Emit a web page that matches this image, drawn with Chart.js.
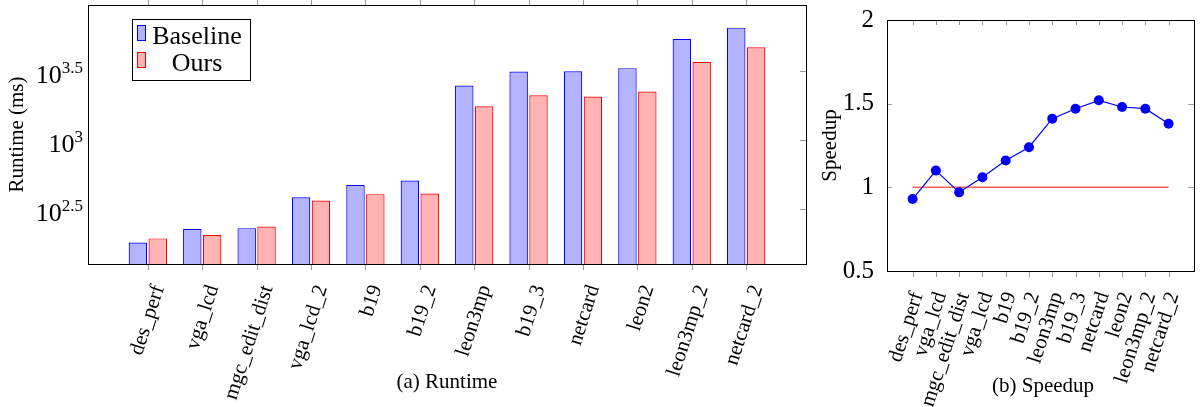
<!DOCTYPE html>
<html>
<head>
<meta charset="utf-8">
<script src="https://cdn.jsdelivr.net/npm/chart.js@4.4.1/dist/chart.umd.min.js"></script>
<style>
  body { margin: 0; background: #fff; width: 1203px; height: 407px; overflow: hidden; position: relative; }
  #runtimeBox { position: absolute; left: 0; top: 0; width: 830px; height: 407px; }
  #speedupBox { position: absolute; left: 810px; top: 0; width: 393px; height: 407px; }
</style>
</head>
<body>
<div id="runtimeBox"><canvas id="runtime"></canvas></div>
<div id="speedupBox"><canvas id="speedup"></canvas></div>
<script>
//// data
const designs = ["des_perf", "vga_lcd", "mgc_edit_dist", "vga_lcd_2", "b19", "b19_2",
                 "leon3mp", "b19_3", "netcard", "leon2", "leon3mp_2", "netcard_2"]
// the speedup panel prints the 4th name without the suffix
const speedupNames = ["des_perf", "vga_lcd", "mgc_edit_dist", "vga_lcd", "b19", "b19_2",
                      "leon3mp", "b19_3", "netcard", "leon2", "leon3mp_2", "netcard_2"]
const baselineMs = [180, 226, 229, 384, 470, 507, 2476, 3126, 3147, 3311, 5395, 6513]
const oursMs = [193, 204, 235, 363, 404, 408, 1755, 2109, 2060, 2239, 3675, 4695]
const speedup = [0.93, 1.10, 0.97, 1.06, 1.16, 1.24, 1.41, 1.47, 1.52, 1.48, 1.47, 1.38]
const runtimeExponents = [2.5, 3, 3.5]   // log ticks 10^x
const speedupTicks = [0.5, 1, 1.5, 2]

const serif = "'Liberation Serif', 'Times New Roman', serif"
const tickGray = '#9a9a9a'

//// helpers
function indexTicks(scale) {
    scale.ticks = designs.map((d, i) => ({ value: i }))
}

// frame + pgfplots-like tick marks + extra texts
const decorPlugin = {
    id: 'decor',
    afterDraw(chart, args, opts) {
        const ctx = chart.ctx
        const a = chart.chartArea
        const xs = chart.scales.x
        const ys = chart.scales.y
        ctx.save()
        ctx.strokeStyle = tickGray
        ctx.lineWidth = 1
        designs.forEach((d, i) => {
            const px = Math.round(xs.getPixelForValue(i)) + 0.5
            ctx.beginPath()
            if (opts.topTicks === 'out') { ctx.moveTo(px, a.top - 6); ctx.lineTo(px, a.top) }
            else { ctx.moveTo(px, a.top); ctx.lineTo(px, a.top + 5) }
            ctx.moveTo(px, a.bottom); ctx.lineTo(px, a.bottom + 6)
            ctx.stroke()
        })
        opts.yValues.forEach(v => {
            const py = Math.round(ys.getPixelForValue(v)) + 0.5
            ctx.beginPath()
            if (opts.leftTicks) { ctx.moveTo(a.left, py); ctx.lineTo(a.left + 5, py) }
            ctx.moveTo(a.right, py); ctx.lineTo(a.right - 6, py)
            ctx.stroke()
        })
        ctx.strokeStyle = '#000'
        ctx.strokeRect(Math.round(a.left) + 0.5, Math.round(a.top) + 0.5,
                       Math.round(a.right - a.left), Math.round(a.bottom - a.top))

        ctx.fillStyle = '#000'
        // y title
        ctx.save()
        ctx.translate(opts.yTitleX, (a.top + a.bottom) / 2)
        ctx.rotate(-Math.PI / 2)
        ctx.font = '21px ' + serif
        ctx.textAlign = 'center'
        ctx.textBaseline = 'middle'
        ctx.fillText(opts.yTitle, 0, 0)
        ctx.restore()
        // caption
        ctx.font = '21px ' + serif
        ctx.textAlign = 'center'
        ctx.textBaseline = 'middle'
        ctx.fillText(opts.caption, opts.captionX, opts.captionY)

        // power-of-ten labels
        if (opts.powerLabels) {
            runtimeExponents.forEach(e => {
                const py = ys.getPixelForValue(Math.pow(10, e))
                const base = '10', sup = String(e)
                ctx.font = '26px ' + serif
                const wb = ctx.measureText(base).width
                ctx.font = '17px ' + serif
                const ws = ctx.measureText(sup).width
                const x0 = a.left - 5 - wb - ws
                ctx.textAlign = 'left'
                ctx.textBaseline = 'alphabetic'
                ctx.font = '26px ' + serif
                ctx.fillText(base, x0, py + 12)
                ctx.font = '17px ' + serif
                ctx.fillText(sup, x0 + wb, py + 2)
            })
        }

        // legend box
        if (opts.legend) {
            const L = opts.legend
            ctx.fillStyle = '#fff'
            ctx.fillRect(132, 19, 119, 61)
            ctx.strokeStyle = '#000'
            ctx.strokeRect(132.5, 19.5, 118, 61)
            L.forEach((item, k) => {
                const y0 = 25 + k * 27
                ctx.fillStyle = item.fill
                ctx.fillRect(137, y0, 9, 16)
                ctx.strokeStyle = item.border
                ctx.strokeRect(137.5, y0 + 0.5, 8, 15)
                ctx.fillStyle = '#000'
                ctx.font = '26px ' + serif
                ctx.textAlign = 'center'
                ctx.textBaseline = 'alphabetic'
                ctx.fillText(item.text, 197, y0 + 19)
            })
        }
        ctx.restore()
    }
}

//// runtime chart
const runtimeChart = new Chart(document.querySelector('#runtime'), {
    type: 'bar',
    data: {
        datasets: [
            {
                label: 'Baseline',
                data: baselineMs.map((v, i) => ({ x: i, y: v })),
                backgroundColor: '#b3b3ff',
                borderColor: '#0000ff',
                borderWidth: 1.2,
                categoryPercentage: 0.73,
                barPercentage: 0.93
            },
            {
                label: 'Ours',
                data: oursMs.map((v, i) => ({ x: i, y: v })),
                backgroundColor: '#ffb3b3',
                borderColor: '#ff0000',
                borderWidth: 1.2,
                categoryPercentage: 0.73,
                barPercentage: 0.93
            }
        ]
    },
    options: {
        responsive: true,
        maintainAspectRatio: false,
        animation: false,
        layout: { padding: { left: 88, top: 5, right: 24, bottom: 0 } },
        scales: {
            x: {
                type: 'linear',
                offset: false,
                min: -1.1,
                max: 12.1,
                afterBuildTicks: indexTicks,
                afterFit: s => { s.height = 143 },
                grid: { display: false, offset: false },
                border: { display: false },
                ticks: {
                    autoSkip: false,
                    minRotation: 72,
                    maxRotation: 72,
                    padding: 10,
                    labelOffset: 11,
                    color: '#000',
                    font: { family: serif, size: 21 },
                    callback: v => designs[v] || ''
                }
            },
            y: {
                type: 'logarithmic',
                display: false,
                min: Math.pow(10, 2.1),
                max: Math.pow(10, 3.978)
            }
        },
        plugins: {
            legend: { display: false },
            tooltip: { enabled: false },
            decor: {
                topTicks: 'out',
                leftTicks: false,
                yValues: runtimeExponents.map(e => Math.pow(10, e)),
                yTitle: 'Runtime (ms)',
                yTitleX: 17,
                caption: '(a) Runtime',
                captionX: 447,
                captionY: 382,
                powerLabels: true,
                legend: [
                    { text: 'Baseline', fill: '#b3b3ff', border: '#0000ff' },
                    { text: 'Ours', fill: '#ffb3b3', border: '#ff0000' }
                ]
            }
        }
    },
    plugins: [decorPlugin]
})

//// speedup chart
const speedupChart = new Chart(document.querySelector('#speedup'), {
    type: 'line',
    data: {
        datasets: [
            {
                label: 'Speedup',
                data: speedup.map((v, i) => ({ x: i, y: v })),
                borderColor: '#0000ff',
                backgroundColor: '#0000ff',
                borderWidth: 1.2,
                pointRadius: 5,
                pointBorderWidth: 0,
                order: 0
            },
            {
                label: 'Baseline',
                data: [{ x: 0, y: 1 }, { x: designs.length - 1, y: 1 }],
                borderColor: '#ff5a5a',
                borderWidth: 1.5,
                pointRadius: 0,
                order: 1
            }
        ]
    },
    options: {
        responsive: true,
        maintainAspectRatio: false,
        animation: false,
        layout: { padding: { left: 0, top: 13, right: 5, bottom: 0 } },
        scales: {
            x: {
                type: 'linear',
                min: -1.1,
                max: 12.1,
                afterBuildTicks: indexTicks,
                afterFit: s => { s.height = 407 - 13 - 258 },
                grid: { display: false },
                border: { display: false },
                ticks: {
                    autoSkip: false,
                    minRotation: 72,
                    maxRotation: 72,
                    padding: 10,
                    labelOffset: 5,
                    color: '#000',
                    font: { family: serif, size: 21 },
                    callback: v => speedupNames[v] || ''
                }
            },
            y: {
                min: 0.5,
                max: 2,
                afterBuildTicks: s => { s.ticks = speedupTicks.map(v => ({ value: v })) },
                afterFit: s => { s.width = 77 },
                grid: { display: false },
                border: { display: false },
                ticks: {
                    padding: 5,
                    color: '#000',
                    font: { family: serif, size: 25 },
                    callback: v => String(v)
                }
            }
        },
        plugins: {
            legend: { display: false },
            tooltip: { enabled: false },
            decor: {
                topTicks: 'in',
                leftTicks: true,
                yValues: [1, 1.5],
                yTitle: 'Speedup',
                yTitleX: 20,
                caption: '(b) Speedup',
                captionX: 233,
                captionY: 386,
                powerLabels: false
            }
        }
    },
    plugins: [decorPlugin]
})
</script>
</body>
</html>
